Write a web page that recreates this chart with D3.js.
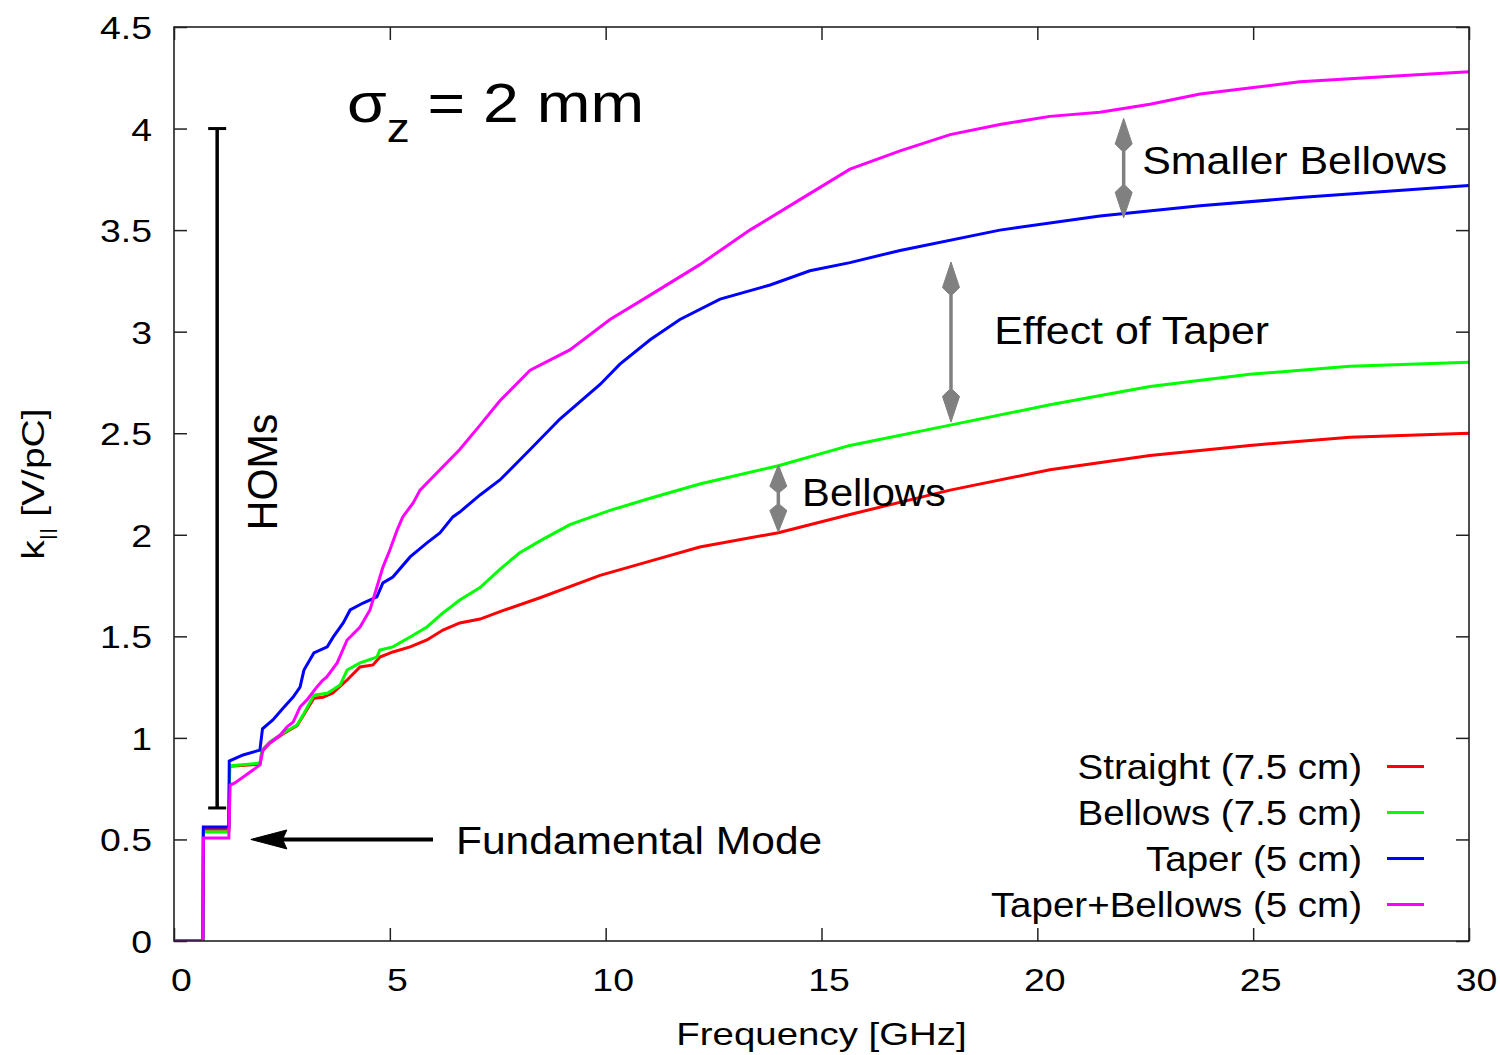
<!DOCTYPE html>
<html>
<head>
<meta charset="utf-8">
<script src="https://cdn.jsdelivr.net/npm/d3@7"></script>
<style>
  html, body { margin: 0; padding: 0; background: #fff; }
  svg { display: block; }
  text { font-family: "Liberation Sans", Arial, Helvetica, sans-serif; fill: #000; }
</style>
</head>
<body>
<svg id="chart" width="1500" height="1055"></svg>
<script>
// Loss factor k_|| versus frequency, cumulative, for a 2 mm bunch.
// Each series is a list of [frequency GHz, k V/pC] points.
const straight = [[0,0],[0.67,0],[0.68,0.55],[1.27,0.55],[1.29,0.86],[1.99,0.87],[2.04,0.935],[2.22,0.975],[2.53,1.02],[2.85,1.06],[3.01,1.115],[3.24,1.195],[3.45,1.20],[3.68,1.221],[4.01,1.285],[4.31,1.349],[4.61,1.359],[4.77,1.398],[5.07,1.423],[5.47,1.448],[5.86,1.482],[6.23,1.531],[6.62,1.566],[7.09,1.585],[7.6,1.625],[8.48,1.69],[9.87,1.80],[11.03,1.87],[12.18,1.94],[14.0,2.01],[15.66,2.10],[17.98,2.22],[20.29,2.32],[22.61,2.39],[24.92,2.44],[27.24,2.48],[30,2.50]];
const bellows = [[0,0],[0.67,0],[0.68,0.537],[1.27,0.537],[1.29,0.862],[1.99,0.876],[2.04,0.94],[2.22,0.98],[2.53,1.024],[2.85,1.063],[3.01,1.12],[3.24,1.21],[3.55,1.22],[3.85,1.26],[4.01,1.334],[4.31,1.369],[4.70,1.398],[4.77,1.433],[5.07,1.448],[5.47,1.497],[5.86,1.546],[6.23,1.615],[6.62,1.679],[7.09,1.74],[7.55,1.83],[8.0,1.91],[8.48,1.97],[9.17,2.05],[10.10,2.12],[11.03,2.18],[12.18,2.25],[14.0,2.34],[15.66,2.44],[17.98,2.54],[20.29,2.64],[22.61,2.73],[24.92,2.79],[27.24,2.83],[30,2.85]];
const taper = [[0,0],[0.67,0],[0.68,0.561],[1.27,0.561],[1.28,0.886],[1.60,0.916],[1.99,0.94],[2.05,1.045],[2.29,1.088],[2.53,1.147],[2.76,1.201],[2.92,1.25],[3.01,1.334],[3.24,1.418],[3.55,1.448],[3.69,1.497],[3.92,1.566],[4.08,1.63],[4.38,1.664],[4.70,1.694],[4.84,1.763],[5.07,1.792],[5.47,1.891],[5.86,1.96],[6.16,2.009],[6.46,2.088],[6.62,2.112],[7.09,2.196],[7.55,2.27],[8.25,2.42],[8.94,2.57],[9.87,2.74],[10.33,2.84],[11.03,2.96],[11.72,3.06],[12.65,3.16],[13.81,3.23],[14.73,3.30],[15.66,3.34],[16.82,3.40],[19.13,3.50],[21.45,3.57],[23.77,3.62],[26.08,3.66],[30,3.72]];
const taperBellows = [[0,0],[0.67,0],[0.68,0.507],[1.27,0.507],[1.30,0.768],[1.41,0.778],[1.83,0.842],[1.99,0.867],[2.06,0.94],[2.22,0.975],[2.46,1.014],[2.62,1.054],[2.76,1.078],[2.92,1.152],[3.08,1.187],[3.31,1.251],[3.45,1.285],[3.54,1.30],[3.78,1.369],[4.01,1.482],[4.31,1.546],[4.54,1.63],[4.70,1.743],[4.84,1.841],[5.0,1.925],[5.17,2.024],[5.30,2.088],[5.54,2.157],[5.70,2.22],[6.16,2.32],[6.62,2.42],[7.09,2.54],[7.55,2.66],[8.25,2.81],[9.17,2.91],[10.10,3.06],[11.03,3.18],[12.18,3.33],[13.34,3.50],[14.50,3.65],[15.66,3.80],[16.82,3.89],[17.98,3.97],[19.13,4.02],[20.29,4.06],[21.45,4.08],[22.61,4.12],[23.77,4.17],[26.08,4.23],[28.40,4.26],[30,4.28]];

const seriesNames = ["Straight (7.5 cm)", "Bellows (7.5 cm)", "Taper (5 cm)", "Taper+Bellows (5 cm)"];
const seriesColors = ["#ff0000", "#00ff00", "#0000ff", "#ff00ff"];
const seriesData = [straight, bellows, taper, taperBellows];

const xTicks = [0, 5, 10, 15, 20, 25, 30];
const yTicks = [0, 0.5, 1, 1.5, 2, 2.5, 3, 3.5, 4, 4.5];

// Annotations in data coordinates
const homsBar = [1.0, 0.655, 4.0];              // x, y bottom, y top
const fundamentalArrow = [6.0, 0.5, 1.78, 0.5]; // tail x, y, tip x, y
const gapArrows = [                              // x, y lower, y upper
  [22.0, 3.56, 4.05],
  [18.0, 2.555, 3.343],
  [14.0, 2.014, 2.344]
];
const gapLabels = [
  ["Smaller Bellows", 22.43, 3.777],
  ["Effect of Taper", 19.0, 2.940],
  ["Bellows", 14.55, 2.142]
];

const svg = d3.select("#chart");
const x = d3.scaleLinear().domain([0, 30]).range([174, 1469]);
const y = d3.scaleLinear().domain([0, 4.5]).range([941, 27]);

// stretched text helper: places text at (px, py) with horizontal scale sx
function stext(parent, px, py, str, size, sx, anchor, rot) {
  const g = parent.append("g")
    .attr("transform", `translate(${px},${py})` + (rot ? ` rotate(${rot})` : "") + ` scale(${sx},1)`);
  return g.append("text")
    .attr("font-size", size + "px")
    .attr("text-anchor", anchor || "start")
    .text(str);
}

// clip for data lines
svg.append("defs").append("clipPath").attr("id", "plotclip")
  .append("rect").attr("x", 174).attr("y", 27).attr("width", 1295).attr("height", 914);

// axes with inward ticks on all four sides
const tickLen = 13;
const tickSx = 1.17;
const gx = svg.append("g").attr("transform", "translate(0,941)")
  .call(d3.axisBottom(x).tickValues(xTicks).tickSize(-tickLen).tickSizeOuter(0).tickPadding(27).tickFormat(d3.format("~g")));
const gy = svg.append("g").attr("transform", "translate(174,0)")
  .call(d3.axisLeft(y).tickValues(yTicks).tickSize(-tickLen).tickSizeOuter(0).tickPadding(22).tickFormat(d3.format("~g")));
svg.append("g").attr("transform", "translate(0,27)")
  .call(d3.axisTop(x).tickValues(xTicks).tickSize(-tickLen).tickSizeOuter(0).tickFormat(""));
svg.append("g").attr("transform", "translate(1469,0)")
  .call(d3.axisRight(y).tickValues(yTicks).tickSize(-tickLen).tickSizeOuter(0).tickFormat(""));

svg.selectAll(".domain").remove();
svg.selectAll(".tick line").attr("stroke", "#222").attr("stroke-width", 1.5);
gx.selectAll("text")
  .attr("font-family", '"Liberation Sans", Arial, sans-serif')
  .attr("font-size", "32px").attr("fill", "#000")
  .attr("x", 7 / tickSx).attr("transform", `scale(${tickSx},1)`);
gy.selectAll("text")
  .attr("font-family", '"Liberation Sans", Arial, sans-serif')
  .attr("font-size", "32px").attr("fill", "#000")
  .attr("x", -22 / tickSx).attr("dy", "0.36em").attr("transform", `scale(${tickSx},1)`);

// data lines
const line = d3.line().x(d => x(d[0])).y(d => y(d[1]));
svg.append("g").attr("clip-path", "url(#plotclip)")
  .selectAll("path").data(seriesData).join("path")
  .attr("d", line)
  .attr("fill", "none")
  .attr("stroke", (d, i) => seriesColors[i])
  .attr("stroke-width", 3)
  .attr("stroke-linejoin", "miter");

// frame
svg.append("rect").attr("x", 174).attr("y", 27).attr("width", 1295).attr("height", 914)
  .attr("fill", "none").attr("stroke", "#222").attr("stroke-width", 1.6);

// axis titles
stext(svg, 821.5, 1045, "Frequency [GHz]", 31, 1.24, "middle");
const yt = stext(svg, 44, 484, "", 31, 1.26, "middle", -90);
yt.append("tspan").text("k");
yt.append("tspan").attr("font-size", "19px").attr("dy", 9).text("||");
yt.append("tspan").attr("dy", -9).text(" [V/pC]");

// sigma label
const sg = svg.append("g").attr("transform", "translate(347,122) scale(1.15,1)");
const st = sg.append("text").attr("font-size", "56px");
st.append("tspan").text("σ");
st.append("tspan").attr("font-size", "40px").attr("dy", 20).text("z");
st.append("tspan").attr("dy", -20).text(" = 2 mm");

// HOMs bar
const hx = x(homsBar[0]);
const hy0 = y(homsBar[1]), hy1 = y(homsBar[2]);
const hb = svg.append("g").attr("stroke", "#000").attr("stroke-width", 3.5);
hb.append("line").attr("x1", hx).attr("x2", hx).attr("y1", hy0).attr("y2", hy1);
hb.append("line").attr("x1", hx - 9).attr("x2", hx + 9).attr("y1", hy0).attr("y2", hy0).attr("stroke-width", 3);
hb.append("line").attr("x1", hx - 9).attr("x2", hx + 9).attr("y1", hy1).attr("y2", hy1).attr("stroke-width", 3);
stext(svg, 277, 472, "HOMs", 42, 0.98, "middle", -90);

// arrow head polygon pointing from (bx,by) towards tip (tx,ty)
function head(parent, tx, ty, bx, by, len, hw, color, shape) {
  const a = Math.atan2(ty - by, tx - bx);
  const ux = Math.cos(a), uy = Math.sin(a);
  const nx = -uy, ny = ux;
  const pt = (along, side) => [tx - ux * along + nx * side, ty - uy * along + ny * side];
  const pts = shape === "kite"
    ? [pt(0, 0), pt(len * 0.8, hw), pt(len, 2), pt(len, -2), pt(len * 0.8, -hw)]
    : [pt(0, 0), pt(len, hw), pt(len * 0.88, 0), pt(len, -hw)];
  parent.append("polygon").attr("points", pts.map(p => p.join(",")).join(" "))
    .attr("fill", color).attr("stroke", color).attr("stroke-width", 1);
}

// fundamental mode arrow
const fa = svg.append("g");
const fx0 = x(fundamentalArrow[0]), fy0 = y(fundamentalArrow[1]);
const fx1 = x(fundamentalArrow[2]), fy1 = y(fundamentalArrow[3]);
fa.append("line").attr("x1", fx0).attr("y1", fy0).attr("x2", fx1 + 30).attr("y2", fy1)
  .attr("stroke", "#000").attr("stroke-width", 4);
head(fa, fx1, fy1, fx0, fy0, 36, 9.5, "#000", "tri");
stext(svg, 456, 854, "Fundamental Mode", 39, 1.09, "start");

// gray double arrows between curves
const gray = "#808080";
gapArrows.forEach(d => {
  const ax = x(d[0]), yl = y(d[1]), yu = y(d[2]);
  const len = Math.min(32, (yl - yu) * 0.4);
  const g = svg.append("g");
  g.append("line").attr("x1", ax).attr("x2", ax).attr("y1", yl - len + 2).attr("y2", yu + len - 2)
    .attr("stroke", gray).attr("stroke-width", 3.5);
  head(g, ax, yu, ax, yl, len, 8.5, gray, "kite");
  head(g, ax, yl, ax, yu, len, 8.5, gray, "kite");
});
gapLabels.forEach((d, i) => {
  stext(svg, x(d[1]), y(d[2]), d[0], 39, i === 2 ? 1.07 : 1.1, "start");
});

// legend
const lg = svg.append("g");
seriesNames.forEach((name, i) => {
  const by = 779 + i * 46;
  stext(lg, 1362, by, name, 35, 1.1, "end");
  lg.append("line").attr("x1", 1387).attr("x2", 1424)
    .attr("y1", by - 12.5).attr("y2", by - 12.5)
    .attr("stroke", seriesColors[i]).attr("stroke-width", 3);
});
</script>
</body>
</html>
